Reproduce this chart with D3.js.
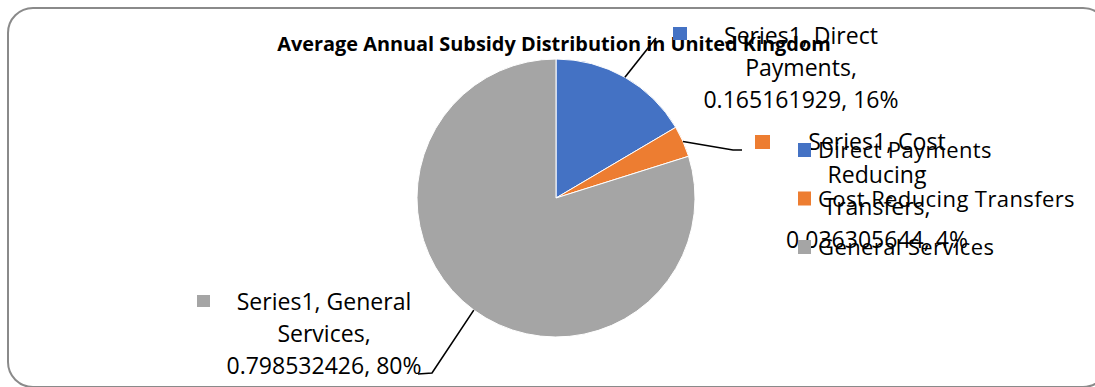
<!DOCTYPE html>
<html><head><meta charset="utf-8">
<script src="https://cdn.jsdelivr.net/npm/d3@7"></script>
<style>
html,body{margin:0;padding:0;background:#fff;}
svg{display:block;}
text{font-family:"Open Sans",sans-serif;fill:#000;}
</style></head>
<body>
<svg id="chart" width="1095" height="387"></svg>
<script>
const title = "Average Annual Subsidy Distribution in United Kingdom";
const seriesName = "Series1";
const categories = ["Direct Payments", "Cost Reducing Transfers", "General Services"];
const values = [0.165161929, 0.036305644, 0.798532426];
const percentLabels = ["16%", "4%", "80%"];
const colors = ["#4472C4", "#ED7D31", "#A5A5A5"];
// words per line for each wrapped data label
const labelWraps = [[2, 1, 2], [2, 1, 1, 2], [2, 1, 2]];

const svg = d3.select("#chart");
const cx = 556, cy = 198, R = 139;

// outer frame
svg.append("rect").attr("x", 8).attr("y", 8).attr("width", 1100).attr("height", 379)
  .attr("rx", 25).attr("fill", "#fff").attr("stroke", "#8a8a8a").attr("stroke-width", 2);

const pie = d3.pie().sort(null).value(d => d)(values);
const arc = d3.arc().innerRadius(0).outerRadius(R);
const g = svg.append("g").attr("transform", `translate(${cx},${cy})`);
g.selectAll("path").data(pie).join("path")
  .attr("d", arc).attr("fill", (d, i) => colors[i])
  .attr("stroke", "#fff").attr("stroke-width", 1);

// label layout (annotation placement)
const labelLayout = [
  {x: 801, y: 44, lh: 32, mx: 673, my: 27, ms: 14, leader: [[656, 38]]},
  {x: 877, y: 150, lh: 32.7, mx: 755, my: 135, ms: 15, leader: [[733, 150], [742, 150]]},
  {x: 324, y: 310, lh: 32, mx: 197, my: 295, ms: 13, leader: [[432, 373], [418, 374]]}
];

// leader lines from slice edge at mid angle
pie.forEach((d, i) => {
  const a = (d.startAngle + d.endAngle) / 2;
  const p0 = [cx + R * Math.sin(a), cy - R * Math.cos(a)];
  const pts = [p0].concat(labelLayout[i].leader);
  svg.append("path").attr("d", d3.line()(pts)).attr("fill", "none")
    .attr("stroke", "#000").attr("stroke-width", 1.6);
});

// title
const t = svg.append("text").attr("x", 554).attr("y", 51).attr("text-anchor", "middle")
  .style("font-weight", "700").style("font-size", "19px").text(title);
(function fit() {
  const w = t.node().getComputedTextLength();
  const s = 554 / w;
  t.attr("transform", `translate(554,0) scale(${s},1) translate(-554,0)`);
})();

// data labels
pie.forEach((d, i) => {
  const L = labelLayout[i];
  const full = `${seriesName}, ${categories[i]}, ${values[i]}, ${percentLabels[i]}`;
  const words = full.split(" ");
  const lines = [];
  let k = 0;
  labelWraps[i].forEach(n => { lines.push(words.slice(k, k + n).join(" ")); k += n; });
  svg.append("rect").attr("x", L.mx).attr("y", L.my).attr("width", L.ms).attr("height", L.ms - 1)
    .attr("fill", colors[i]);
  const tx = svg.append("text").attr("text-anchor", "middle").style("font-size", "24px")
    .attr("transform", `translate(${L.x},0) scale(0.96,1) translate(${-L.x},0)`);
  lines.forEach((ln, j) => {
    tx.append("tspan").attr("x", L.x).attr("y", L.y + j * L.lh).text(ln);
  });
});

// legend
const legend = svg.append("g");
const legY = d3.scalePoint().domain(categories).range([150, 247]);
categories.forEach((c, i) => {
  legend.append("rect").attr("x", 798).attr("y", legY(c) - 7).attr("width", 13).attr("height", 14)
    .attr("fill", colors[i]);
  legend.append("text").attr("x", 818).attr("y", legY(c) + 8).style("font-size", "22px")
    .style("letter-spacing", "0.4px").text(c);
});
</script>
</body></html>
